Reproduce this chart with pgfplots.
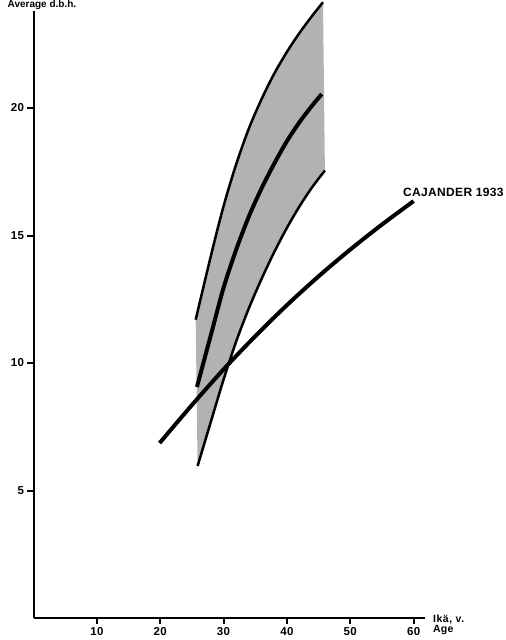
\documentclass[border=0pt]{standalone}
\usepackage{fontspec}
\setmainfont{Liberation Sans}
\usepackage{pgfplots}
\pgfplotsset{compat=1.18}
\usepgfplotslibrary{fillbetween}
\begin{document}
\begin{tikzpicture}
\begin{axis}[
  at={(0pt,0pt)}, anchor=south west,
  scale only axis, width=391.5pt, height=614.5pt,
  xmin=0, xmax=61.8, ymin=0, ymax=24.1,
  axis lines=left,
  axis line style={line width=2pt, -},
  xtick={10,20,30,40,50,60}, ytick={5,10,15,20},
  tick align=outside, major tick length=6pt,
  tick style={line width=2pt, black},
  ticklabel style={font=\bfseries\fontsize{11.5}{13}\selectfont\addfontfeature{LetterSpace=3}},
  /pgf/number format/assume math mode=true,
  clip=false,
]
\addplot[name path=up, line width=2.5pt, smooth, tension=0.5] coordinates {
 (25.6,11.7) (28,14.2) (30,16.15) (32,17.8) (34,19.2) (36,20.35) (38,21.35) (40,22.2) (42,22.95) (44,23.62) (45.7,24.15)};
\addplot[name path=low, line width=2.5pt, smooth, tension=0.5] coordinates {
 (25.9,5.96) (28,7.7) (30,9.35) (32,10.85) (34,12.15) (36,13.3) (38,14.35) (40,15.3) (42,16.15) (44,16.9) (46,17.55)};
\addplot[fill=black!30, draw=none] fill between[of=up and low];
\addplot[line width=4pt, smooth, tension=0.5] coordinates {
 (25.8,9.06) (28,11.1) (30,12.95) (32,14.45) (34,15.75) (36,16.85) (38,17.82) (40,18.7) (42,19.45) (44,20.1) (45.5,20.55)};
\addplot[line width=4pt, smooth, tension=0.5] coordinates {
 (19.9,6.86) (25,8.35) (30,9.75) (35,11.05) (40,12.27) (45,13.4) (50,14.45) (55,15.43) (60,16.35)};
\node[anchor=base west, inner sep=0pt, font=\bfseries\fontsize{12}{14}\selectfont\addfontfeature{LetterSpace=3}] at (axis cs:58.3,16.52) {CAJANDER 1933};
\node[anchor=base west, inner sep=0pt, font=\bfseries\fontsize{10.5}{12}\selectfont\addfontfeature{LetterSpace=5}] at (axis cs:63.06,-0.196) {Ikä, v.};
\node[anchor=base west, inner sep=0pt, font=\bfseries\fontsize{10.5}{12}\selectfont\addfontfeature{LetterSpace=2}] at (axis cs:63.06,-0.588) {Age};
\end{axis}
\node[anchor=north west, inner sep=0.5pt, fill=white, font=\bfseries\fontsize{10}{12}\selectfont] at (-26.5pt,618pt) {Average d.b.h.};
\pgfresetboundingbox
\path[use as bounding box] (-33.5pt,-22pt) rectangle (472.5pt,618pt);
\end{tikzpicture}
\end{document}
